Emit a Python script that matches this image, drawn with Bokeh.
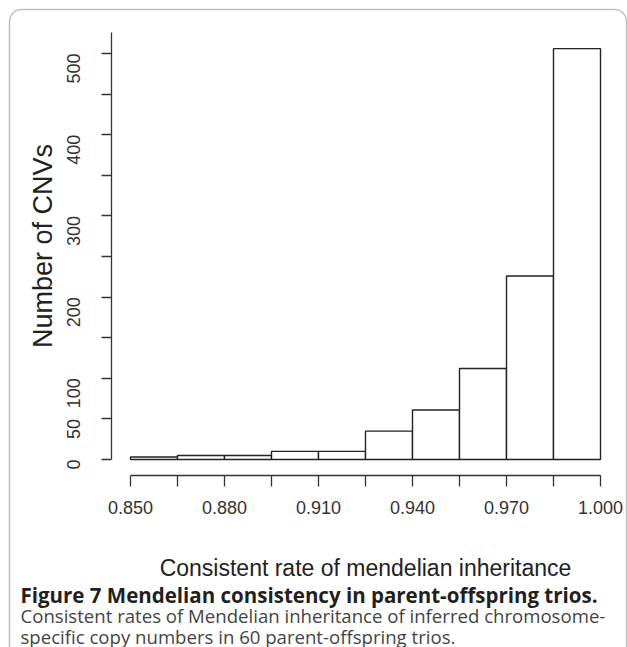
import math
from bokeh.plotting import figure
from bokeh.models import FixedTicker, Range1d, Label, BoxAnnotation
from bokeh.embed import file_html
from bokeh.resources import INLINE

# ---- data ----
bin_left = [0.850, 0.865, 0.880, 0.895, 0.910, 0.925, 0.940, 0.955, 0.970, 0.985]
bin_right = [0.865, 0.880, 0.895, 0.910, 0.925, 0.940, 0.955, 0.970, 0.985, 1.000]
counts = [3, 5, 5, 10, 10, 35, 61, 112, 226, 506]

x_ticks = [0.850, 0.865, 0.880, 0.895, 0.910, 0.925, 0.940, 0.955, 0.970, 0.985, 1.000]
x_tick_labels = ["0.850", "", "0.880", "", "0.910", "", "0.940", "", "0.970", "", "1.000"]
y_ticks = [0, 50, 100, 150, 200, 250, 300, 350, 400, 450, 500]
y_tick_labels = ["0", "50", "100", "", "200", "", "300", "", "400", "", "500"]

x_title = "Consistent rate of mendelian inheritance"
y_title = "Number of CNVs"
caption_head = "Figure 7 Mendelian consistency in parent-offspring trios."
caption_body = [
    "Consistent rates of Mendelian inheritance of inferred chromosome-",
    "specific copy numbers in 60 parent-offspring trios.",
]

W, H = 627, 647
# pixel geometry of the plot (R-style histogram with detached axes)
x_px_per_unit = 47 / 0.015
y_px_per_unit = 406 / 500
x0_px, y0_px = 130, 459          # pixel of x=0.850, y=0
x_start = x_ticks[0] - x0_px / x_px_per_unit
x_end = x_start + W / x_px_per_unit
y_end = y0_px / y_px_per_unit
y_start = y_end - H / y_px_per_unit

p = figure(width=W, height=H, output_backend="svg", toolbar_location=None,
           x_range=Range1d(x_start, x_end), y_range=Range1d(y_start, y_end),
           min_border=0, title=None)
p.background_fill_color = "white"
p.border_fill_color = "white"
p.outline_line_color = None
p.grid.visible = False

p.quad(left=bin_left, right=bin_right, bottom=0, top=counts,
       fill_color="white", line_color="#222222", line_width=1.4)

ax_col = "#333333"
font = "Liberation Sans"

xa = p.xaxis[0]
xa.fixed_location = -(475 - y0_px) / y_px_per_unit
xa.ticker = FixedTicker(ticks=x_ticks)
xa.major_label_overrides = {t: l for t, l in zip(x_ticks, x_tick_labels)}
xa.bounds = (x_ticks[0], x_ticks[-1])
xa.minor_tick_line_color = None
xa.major_tick_in = 0
xa.major_tick_out = 11
xa.axis_line_color = ax_col
xa.axis_line_width = 1.3
xa.major_tick_line_color = ax_col
xa.major_tick_line_width = 1.3
xa.major_label_text_font = font
xa.major_label_text_font_size = "18px"
xa.major_label_text_color = ax_col
xa.major_label_standoff = 14
xa.axis_label = x_title
xa.axis_label_text_font = font
xa.axis_label_text_font_style = "normal"
xa.axis_label_text_font_size = "23px"
xa.axis_label_text_color = "#222222"
xa.axis_label_standoff = 38

ya = p.yaxis[0]
ya.fixed_location = x_ticks[0] - 19 / x_px_per_unit
ya.ticker = FixedTicker(ticks=y_ticks)
ya.major_label_overrides = {t: l for t, l in zip(y_ticks, y_tick_labels)}
ya.bounds = (0, 526)
ya.minor_tick_line_color = None
ya.major_tick_in = 0
ya.major_tick_out = 10
ya.axis_line_color = ax_col
ya.axis_line_width = 1.3
ya.major_tick_line_color = ax_col
ya.major_tick_line_width = 1.3
ya.major_label_text_font = font
ya.major_label_text_font_size = "18px"
ya.major_label_text_color = ax_col
ya.major_label_orientation = math.pi / 2
ya.major_label_standoff = 28
ya.axis_label = y_title
ya.axis_label_text_font = font
ya.axis_label_text_font_style = "normal"
ya.axis_label_text_font_size = "27px"
ya.axis_label_text_color = "#222222"
ya.axis_label_standoff = 0

# rounded frame around the whole figure panel
p.add_layout(BoxAnnotation(left=9, right=626, top=9, bottom=658,
                           left_units="canvas", right_units="canvas",
                           top_units="canvas", bottom_units="canvas",
                           fill_alpha=0, line_color="#333333", line_width=1.5,
                           border_radius=12))

cap_font = "Open Sans"
p.add_layout(Label(x=20, y=594, x_units="canvas", y_units="canvas",
                   text=caption_head, text_font=cap_font, text_font_size="20.5px",
                   text_font_style="bold", text_color="#231f20",
                   text_baseline="alphabetic", text_align="left"))
for i, line in enumerate(caption_body):
    p.add_layout(Label(x=20, y=615 + 21 * i, x_units="canvas", y_units="canvas",
                       text=line, text_font=cap_font, text_font_size="18.6px",
                       text_color="#444444",
                       text_baseline="alphabetic", text_align="left"))

open("out.html", "w").write(file_html(p, INLINE))
